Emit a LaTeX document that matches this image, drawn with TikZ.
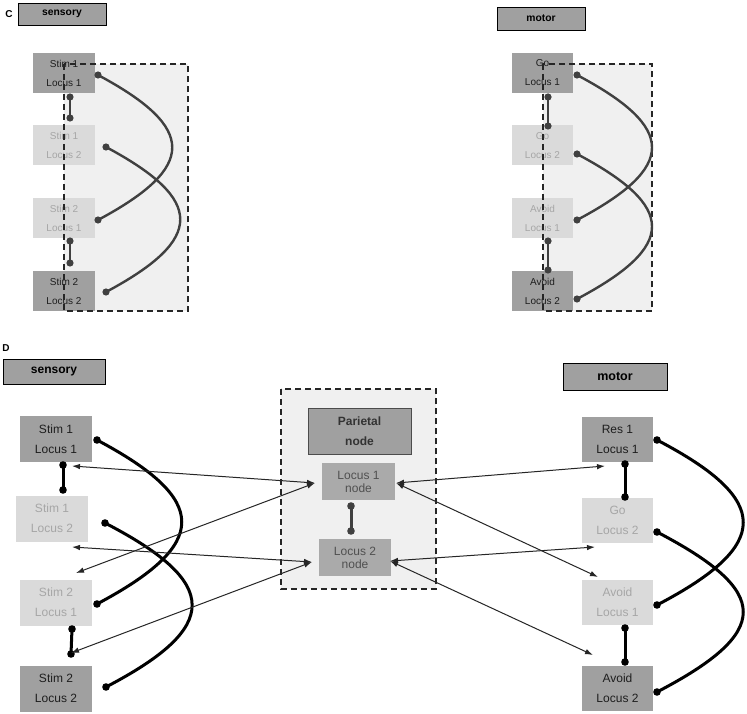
\documentclass[tikz,border=0pt]{standalone}
\usepackage{fontspec}
\setmainfont{Liberation Sans}
\usetikzlibrary{arrows.meta}
\definecolor{boxdark}{HTML}{A0A0A0}
\definecolor{boxlight}{HTML}{DADADA}
\definecolor{txtlight}{HTML}{A6A6A6}
\definecolor{txtdark}{HTML}{1E1E1E}
\definecolor{areafill}{HTML}{F0F0F0}
\definecolor{cline}{HTML}{404040}
\definecolor{nodetxt}{HTML}{505050}
\tikzset{
  hdr/.style={draw=black, line width=0.8pt, fill=boxdark, inner sep=0pt, font=\bfseries\fontsize{10.3}{12}\selectfont},
  cbox/.style={minimum width=62pt, minimum height=40pt, inner sep=0pt, align=center, font=\fontsize{10}{19}\selectfont},
  cdk/.style={cbox, fill=boxdark, text=txtdark},
  clt/.style={cbox, fill=boxlight, text=txtlight},
  dbox/.style={minimum width=72pt, minimum height=46pt, inner sep=0pt, align=center, font=\fontsize{12}{20}\selectfont},
  ddk/.style={dbox, fill=boxdark, text=txtdark},
  dlt/.style={dbox, fill=boxlight, text=txtlight},
  area/.style={fill=areafill},
  areaedge/.style={draw=black!85, line width=1.1pt, dash pattern=on 6pt off 4pt},
  ccurve/.style={draw=cline, line width=2.4pt},
  dcurve/.style={draw=black, line width=3pt},
  link/.style={draw=black!85, line width=1pt, {Latex[length=8pt,width=5.5pt]}-{Latex[length=8pt,width=5.5pt]}},
  plabel/.style={font=\bfseries\fontsize{10}{12}\selectfont, inner sep=0pt},
  locnode/.style={fill=boxdark!90, minimum height=37pt, inner sep=0pt, align=center, text=nodetxt, font=\fontsize{12}{13}\selectfont}
}
\begin{document}
\begin{tikzpicture}[x=1pt,y=-1pt]
\useasboundingbox[fill=white] (0,0) rectangle (747,714);

% ================= Panel C =================
\node[plabel] (lblC) at (9,14) {C};
\node[hdr, minimum width=88pt, minimum height=22pt] (csh) at (62,14) {sensory};
\node[hdr, minimum width=88pt, minimum height=23pt] (cmh) at (541,18.5) {motor};

% areas (fill)
\fill[area] (64,64) rectangle (188,311);
\fill[area] (543,64) rectangle (652,311);

% sensory boxes
\node[cdk] (cs1) at (64,73) {Stim 1\\Locus 1};
\node[clt] (cs2) at (64,145.5) {Stim 1\\Locus 2};
\node[clt] (cs3) at (64,218) {Stim 2\\Locus 1};
\node[cdk] (cs4) at (64,291) {Stim 2\\Locus 2};
% motor boxes
\node[cdk, minimum width=61pt] (cm1) at (542.5,73) {Go\\Locus 1};
\node[clt, minimum width=61pt] (cm2) at (542.5,145.5) {Go\\Locus 2};
\node[clt, minimum width=61pt] (cm3) at (542.5,218) {Avoid\\Locus 1};
\node[cdk, minimum width=61pt] (cm4) at (542.5,291) {Avoid\\Locus 2};

% dashed area borders
\draw[areaedge] (64,64) rectangle (188,311);
\draw[areaedge] (543,64) rectangle (652,311);

% connector end points C sensory
\coordinate (cs1r) at (98,75);
\coordinate (cs3r) at (98,220);
\coordinate (cs2r) at (106,147);
\coordinate (cs4r) at (106,292);
\coordinate (cs1b) at (70,97);
\coordinate (cs2t) at (70,118);
\coordinate (cs3b) at (70,241);
\coordinate (cs4t) at (70,263);
% C motor
\coordinate (cm1r) at (577,75);
\coordinate (cm3r) at (577,220);
\coordinate (cm2r) at (577,154);
\coordinate (cm4r) at (577,299);
\coordinate (cm1b) at (548,97);
\coordinate (cm2t) at (548,126);
\coordinate (cm3b) at (548,241);
\coordinate (cm4t) at (548,270);

\draw[ccurve] (cs1r) .. controls (197,128) and (197,167) .. (cs3r);
\draw[ccurve] (cs2r) .. controls (205,200) and (205,239) .. (cs4r);
\draw[ccurve] (cs1b) -- (cs2t);
\draw[ccurve] (cs3b) -- (cs4t);
\draw[ccurve] (cm1r) .. controls (677,128) and (677,167) .. (cm3r);
\draw[ccurve] (cm2r) .. controls (677,207) and (677,246) .. (cm4r);
\draw[ccurve] (cm1b) -- (cm2t);
\draw[ccurve] (cm3b) -- (cm4t);
\foreach \p in {cs1r,cs3r,cs2r,cs4r,cs1b,cs2t,cs3b,cs4t,cm1r,cm3r,cm2r,cm4r,cm1b,cm2t,cm3b,cm4t}
  \fill[cline] (\p) circle (3.6pt);

% ================= Panel D =================
\node[plabel] (lblD) at (6,348) {D};
\node[hdr, minimum width=102pt, minimum height=25pt, font=\bfseries\fontsize{12}{14}\selectfont] (dsh) at (54,371.5) {sensory};
\node[hdr, minimum width=104pt, minimum height=27pt, font=\bfseries\fontsize{12.5}{14}\selectfont] (dmh) at (615,376.5) {motor};

% parietal area
\fill[area] (281,389) rectangle (436,589);
\node[draw=black!70, line width=0.8pt, fill=boxdark, minimum width=103pt, minimum height=46pt, inner sep=0pt, align=center, text=black!80, font=\bfseries\fontsize{12}{20}\selectfont] (par) at (359.5,431) {Parietal\\node};
\node[locnode, minimum width=73pt] (ln1) at (358.5,481.5) {Locus 1\\node};
\node[locnode, minimum width=72pt] (ln2) at (355,557.5) {Locus 2\\node};
\draw[areaedge] (281,389) rectangle (436,589);

% sensory boxes
\node[ddk] (ds1) at (56,439) {Stim 1\\Locus 1};
\node[dlt] (ds2) at (52,518.5) {Stim 1\\Locus 2};
\node[dlt] (ds3) at (56,602.5) {Stim 2\\Locus 1};
\node[ddk] (ds4) at (56,688.5) {Stim 2\\Locus 2};
% motor boxes
\node[ddk, minimum width=71pt, minimum height=45pt] (dm1) at (617.5,439.5) {Res 1\\Locus 1};
\node[dlt, minimum width=71pt, minimum height=45pt] (dm2) at (617.5,520.5) {Go\\Locus 2};
\node[dlt, minimum width=71pt, minimum height=45pt] (dm3) at (617.5,602.5) {Avoid\\Locus 1};
\node[ddk, minimum width=71pt, minimum height=45pt] (dm4) at (617.5,688.5) {Avoid\\Locus 2};

% connector end points D
\coordinate (ds1r) at (97,440);
\coordinate (ds3r) at (97,604);
\coordinate (ds2r) at (105,523);
\coordinate (ds4r) at (106,687);
\coordinate (ds1b) at (63,465);
\coordinate (ds2t) at (63,490);
\coordinate (ds3b) at (72,629);
\coordinate (ds4t) at (71,654);
\coordinate (dm1r) at (657,440);
\coordinate (dm3r) at (657,605);
\coordinate (dm2r) at (657,532);
\coordinate (dm4r) at (657,692);
\coordinate (dm1b) at (625,464);
\coordinate (dm2t) at (625,497);
\coordinate (dm3b) at (625,628);
\coordinate (dm4t) at (625,662);
\coordinate (pl1) at (351,506);
\coordinate (pl2) at (351,531);

\draw[dcurve] (ds1r) .. controls (210,500) and (210,544) .. (ds3r);
\draw[dcurve] (ds2r) .. controls (221,583) and (221,627) .. (ds4r);
\draw[dcurve] (ds1b) -- (ds2t);
\draw[dcurve] (ds3b) -- (ds4t);
\draw[dcurve] (dm1r) .. controls (772,500) and (772,545) .. (dm3r);
\draw[dcurve] (dm2r) .. controls (772,592) and (772,632) .. (dm4r);
\draw[dcurve] (dm1b) -- (dm2t);
\draw[dcurve] (dm3b) -- (dm4t);
\draw[draw=cline, line width=3pt] (pl1) -- (pl2);
\foreach \p in {ds1r,ds3r,ds2r,ds4r,ds1b,ds2t,ds3b,ds4t,dm1r,dm3r,dm2r,dm4r,dm1b,dm2t,dm3b,dm4t}
  \fill[black] (\p) circle (3.8pt);
\foreach \p in {pl1,pl2}
  \fill[cline] (\p) circle (3.8pt);

% arrows
\coordinate (al1) at (72,466);
\coordinate (al2) at (76,573);
\coordinate (al3) at (72,547);
\coordinate (al4) at (71,653);
\coordinate (n1l) at (315,483);
\coordinate (n2l) at (312,562);
\coordinate (n1r) at (396,483);
\coordinate (n2r) at (390,561);
\coordinate (ar1) at (605,466);
\coordinate (ar2) at (595,547);
\coordinate (ar3) at (598,577);
\coordinate (ar4) at (593,655);
\draw[link] (al1) -- (n1l);
\draw[link] (al2) -- (n1l);
\draw[link] (al3) -- (n2l);
\draw[link] (al4) -- (n2l);
\draw[link] (n1r) -- (ar1);
\draw[link] (n1r) -- (ar3);
\draw[link] (n2r) -- (ar2);
\draw[link] (n2r) -- (ar4);
\end{tikzpicture}
\end{document}
